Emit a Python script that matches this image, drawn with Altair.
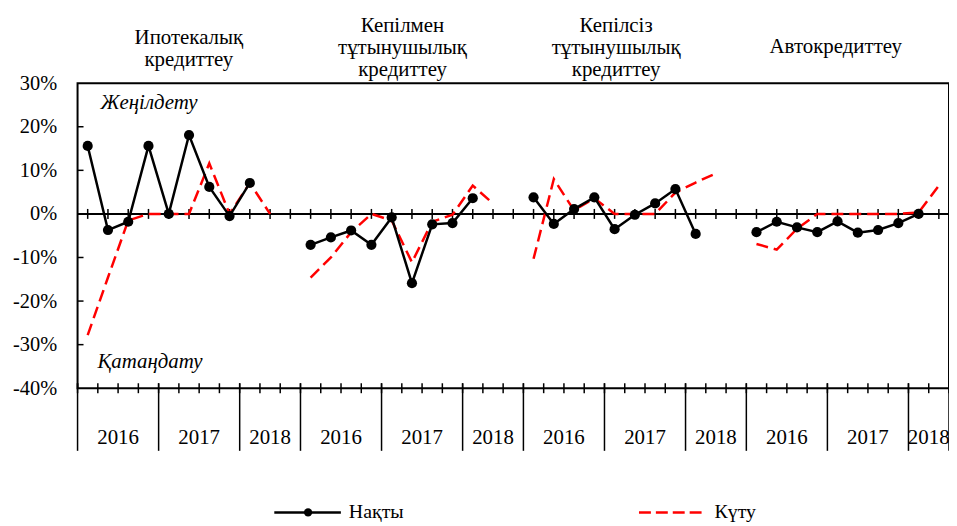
import altair as alt
import pandas as pd

# ---------------- data ----------------
group_titles = [
    "Ипотекалық\nкредиттеу",
    "Кепілмен\nтұтынушылық\nкредиттеу",
    "Кепілсіз\nтұтынушылық\nкредиттеу",
    "Автокредиттеу",
]
years = ["2016", "2017", "2018"]
quarters_per_year = [4, 4, 2]
slots_per_group = [11, 11, 11, 10]

# Нақты (actual), %  : 2016Q1 .. 2018Q1
actual = [
    [15.6, -3.7, -1.8, 15.6, 0.0, 18.1, 6.2, -0.5, 7.1],
    [-7.1, -5.4, -3.8, -7.1, -0.8, -15.9, -2.4, -2.1, 3.6],
    [3.8, -2.3, 1.1, 3.8, -3.5, -0.2, 2.4, 5.7, -4.6],
    [-4.2, -1.8, -3.1, -4.2, -1.7, -4.3, -3.7, -2.1, 0.0],
]
# Күту (expected), % : 2016Q1 .. 2018Q2
expected = [
    [-27.8, -14.6, -1.5, 0.0, 0.0, 0.0, 11.6, 0.0, 7.1, 0.0],
    [-14.6, -10.0, -4.2, 0.0, -1.5, -11.1, -1.8, -0.2, 6.5, 2.4],
    [-10.3, 8.0, 0.8, 3.6, 0.0, 0.0, 0.0, 4.9, 7.2, 9.3],
    [-6.9, -8.2, -3.4, 0.0, 0.0, 0.0, 0.0, 0.0, 0.3, 6.5],
]
y_ticks = [-40, -30, -20, -10, 0, 10, 20, 30]
legend_labels = ["Нақты", "Күту"]
band_labels = ["Жеңілдету", "Қатаңдату"]

# ---------------- layout / style ----------------
W, H = 877, 307
Y_MIN, Y_MAX = -40, 30
FONT = "Liberation Serif"
RED = "#FF0000"
total_slots = sum(slots_per_group)
starts = [sum(slots_per_group[:g]) for g in range(len(slots_per_group))]
px_per_pct = H / (Y_MAX - Y_MIN)

title_x_px = [112, 327, 542, 763]
title_y_px = [-39, -51, -51, -30]

xs = alt.Scale(domain=[0, total_slots], nice=False, zero=False)
ys = alt.Scale(domain=[Y_MIN, Y_MAX], nice=False, zero=False)

# ---------------- tables ----------------
rows = []
for g in range(len(actual)):
    for q, v in enumerate(actual[g]):
        rows.append({"group": g, "x": starts[g] + q + 0.5, "value": v})
act_df = pd.DataFrame(rows)

rows = []
for g in range(len(expected)):
    for q, v in enumerate(expected[g]):
        rows.append({"group": g, "x": starts[g] + q + 0.5, "value": v})
exp_df = pd.DataFrame(rows)

centers_df = pd.DataFrame({"x": [i + 0.5 for i in range(total_slots)]})
bounds_df = pd.DataFrame({"x": list(range(total_slots + 1))})
one_df = pd.DataFrame({"k": [0]})

year_bounds = []
year_lab = []
for g in range(len(slots_per_group)):
    b = [starts[g], starts[g] + quarters_per_year[0], starts[g] + quarters_per_year[0] + quarters_per_year[1],
         starts[g] + slots_per_group[g]]
    year_bounds += b
    for k, yl in enumerate(years):
        year_lab.append({"x": (b[k] + b[k + 1]) / 2, "label": yl})
ybounds_df = pd.DataFrame({"x": sorted(set(year_bounds))})
ylab_df = pd.DataFrame(year_lab)

titles_df = pd.DataFrame({"t": group_titles, "px": title_x_px, "py": title_y_px})
yt_df = pd.DataFrame({"y": y_ticks[1:-1]})

half = 5 / px_per_pct

zero_line = alt.Chart(one_df).mark_rule(color="black", strokeWidth=2).encode(y=alt.datum(0, scale=ys))
zero_ticks = alt.Chart(centers_df).mark_rule(color="black", strokeWidth=1.5).encode(
    x=alt.X("x:Q", scale=xs, axis=None),
    y=alt.datum(-half, scale=ys),
    y2=alt.datum(half),
)
bottom_ticks = alt.Chart(bounds_df).mark_rule(color="black", strokeWidth=1.5).encode(
    x=alt.X("x:Q", scale=xs, axis=None),
    y=alt.value(H - 5),
    y2=alt.value(H + 5),
)
year_lines = alt.Chart(ybounds_df).mark_rule(color="black", strokeWidth=1.5).encode(
    x=alt.X("x:Q", scale=xs, axis=None),
    y=alt.value(H - 5),
    y2=alt.value(H + 63),
)
year_text = alt.Chart(ylab_df).mark_text(font=FONT, fontSize=21, color="black", baseline="middle").encode(
    x=alt.X("x:Q", scale=xs, axis=None),
    y=alt.value(H + 50),
    text="label:N",
)
left_ticks = alt.Chart(yt_df).mark_rule(color="black", strokeWidth=1.5).encode(
    y=alt.Y("y:Q", scale=ys,
            axis=alt.Axis(values=y_ticks, labelExpr="datum.value + '%'", ticks=False, tickSize=0,
                          domain=False, grid=False, labelFont=FONT, labelFontSize=20.5,
                          labelColor="black", labelPadding=21, title=None)),
    x=alt.value(0),
    x2=alt.value(6),
)
exp_line = alt.Chart(exp_df).mark_line(color=RED, strokeWidth=2.5, strokeDash=[12, 6]).encode(
    x=alt.X("x:Q", scale=xs, axis=None),
    y=alt.Y("value:Q", scale=ys),
    detail="group:N",
)
act_line = alt.Chart(act_df).mark_line(color="black", strokeWidth=2.5).encode(
    x=alt.X("x:Q", scale=xs, axis=None),
    y=alt.Y("value:Q", scale=ys),
    detail="group:N",
)
act_pts = alt.Chart(act_df).mark_circle(color="black", size=105, opacity=1).encode(
    x=alt.X("x:Q", scale=xs, axis=None),
    y=alt.Y("value:Q", scale=ys),
)
titles = alt.Chart(titles_df).mark_text(font=FONT, fontSize=21, color="black", lineBreak="\n",
                                        lineHeight=22, baseline="alphabetic", align="center").encode(
    x=alt.X("px:Q", scale=None),
    y=alt.Y("py:Q", scale=None),
    text="t:N",
)
band_top = alt.Chart(one_df).mark_text(font=FONT, fontSize=21, fontStyle="italic", color="black",
                                       align="left", baseline="alphabetic", text=band_labels[0]).encode(
    x=alt.value(23), y=alt.value(26))
band_bot = alt.Chart(one_df).mark_text(font=FONT, fontSize=21, fontStyle="italic", color="black",
                                       align="left", baseline="alphabetic", text=band_labels[1]).encode(
    x=alt.value(20), y=alt.value(287))

LY = 432
leg1_line = alt.Chart(one_df).mark_rule(color="black", strokeWidth=2.5).encode(
    x=alt.value(198), x2=alt.value(265), y=alt.value(LY))
leg1_pt = alt.Chart(one_df).mark_circle(color="black", size=70, opacity=1).encode(
    x=alt.value(232), y=alt.value(LY))
leg1_txt = alt.Chart(one_df).mark_text(font=FONT, fontSize=20, color="black", align="left",
                                       baseline="middle", text=legend_labels[0]).encode(
    x=alt.value(273), y=alt.value(LY))
leg2_line = alt.Chart(one_df).mark_rule(color=RED, strokeWidth=2.5, strokeDash=[12, 5]).encode(
    x=alt.value(565), x2=alt.value(629), y=alt.value(LY))
leg2_txt = alt.Chart(one_df).mark_text(font=FONT, fontSize=20, color="black", align="left",
                                       baseline="middle", text=legend_labels[1]).encode(
    x=alt.value(641), y=alt.value(LY))

chart = alt.layer(
    left_ticks, zero_line, zero_ticks, bottom_ticks, year_lines, year_text,
    exp_line, act_line, act_pts, titles, band_top, band_bot,
    leg1_line, leg1_pt, leg1_txt, leg2_line, leg2_txt,
).properties(
    width=W, height=H,
    background="white",
    autosize=alt.AutoSizeParams(type="none"),
    padding={"left": 70, "top": 74, "right": 0, "bottom": 137},
).configure_view(stroke="black", strokeWidth=2)

chart.save("out.html", embed_options={"renderer": "svg", "actions": False})
